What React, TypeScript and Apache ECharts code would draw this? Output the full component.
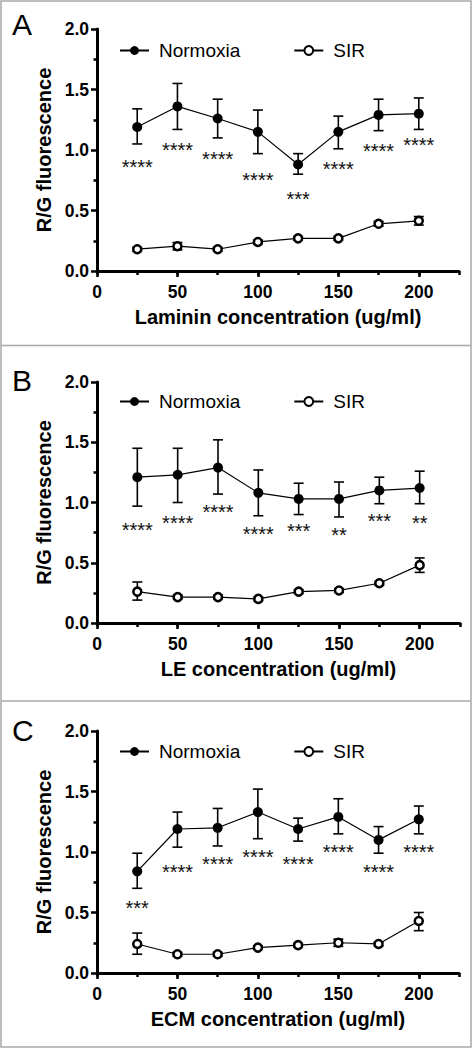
import React, { useEffect, useRef } from "react";
import * as echarts from "echarts";

const concentrations = [25, 50, 75, 100, 125, 150, 175, 200];
const xTickValues = [0, 50, 100, 150, 200];

// Panel A – Laminin
const lamNormMean = [1.19, 1.36, 1.26, 1.15, 0.88, 1.15, 1.29, 1.3];
const lamNormLow = [1.05, 1.17, 1.1, 0.97, 0.8, 1.01, 1.16, 1.17];
const lamNormHigh = [1.34, 1.55, 1.42, 1.33, 0.97, 1.28, 1.42, 1.43];
const lamSirMean = [0.18, 0.205, 0.18, 0.24, 0.27, 0.27, 0.39, 0.415];
const lamSirLow = [0.165, 0.175, 0.165, 0.225, 0.255, 0.255, 0.37, 0.38];
const lamSirHigh = [0.195, 0.235, 0.195, 0.255, 0.285, 0.285, 0.41, 0.45];
const lamStars = ["****", "****", "****", "****", "***", "****", "****", "****"];
const lamStarY = [0.9, 1.04, 0.96, 0.79, 0.63, 0.88, 1.03, 1.08];

// Panel B – LE
const leNormMean = [1.21, 1.23, 1.29, 1.08, 1.03, 1.03, 1.1, 1.12];
const leNormLow = [0.97, 1.0, 1.07, 0.89, 0.9, 0.88, 0.99, 0.99];
const leNormHigh = [1.45, 1.45, 1.52, 1.27, 1.16, 1.17, 1.21, 1.26];
const leSirMean = [0.26, 0.215, 0.215, 0.2, 0.26, 0.27, 0.33, 0.48];
const leSirLow = [0.19, 0.2, 0.2, 0.185, 0.245, 0.255, 0.315, 0.42];
const leSirHigh = [0.34, 0.23, 0.23, 0.215, 0.275, 0.285, 0.345, 0.54];
const leStars = ["****", "****", "****", "****", "***", "**", "***", "**"];
const leStarY = [0.81, 0.87, 0.96, 0.78, 0.8, 0.77, 0.88, 0.87];

// Panel C – ECM
const ecmNormMean = [0.84, 1.19, 1.2, 1.33, 1.19, 1.29, 1.1, 1.27];
const ecmNormLow = [0.7, 1.04, 1.05, 1.11, 1.09, 1.15, 0.99, 1.15];
const ecmNormHigh = [0.99, 1.33, 1.36, 1.52, 1.28, 1.44, 1.21, 1.38];
const ecmSirMean = [0.24, 0.155, 0.155, 0.21, 0.23, 0.25, 0.24, 0.43];
const ecmSirLow = [0.155, 0.14, 0.14, 0.195, 0.215, 0.22, 0.225, 0.35];
const ecmSirHigh = [0.33, 0.17, 0.17, 0.225, 0.245, 0.28, 0.255, 0.5];
const ecmStars = ["***", "****", "****", "****", "****", "****", "****", "****"];
const ecmStarY = [0.575, 0.87, 0.94, 1.0, 0.94, 1.04, 0.87, 1.04];

const panelLetters = ["A", "B", "C"];
const xAxisNames = [
  "Laminin concentration (ug/ml)",
  "LE concentration (ug/ml)",
  "ECM concentration (ug/ml)",
];
const yAxisName = "R/G fluorescence";
const legendNames = ["Normoxia", "SIR"];

const FONT = '"Liberation Sans", Arial, Helvetica, sans-serif';

const panels = [
  {
    normMean: lamNormMean, normLow: lamNormLow, normHigh: lamNormHigh,
    sirMean: lamSirMean, sirLow: lamSirLow, sirHigh: lamSirHigh,
    stars: lamStars, starY: lamStarY,
  },
  {
    normMean: leNormMean, normLow: leNormLow, normHigh: leNormHigh,
    sirMean: leSirMean, sirLow: leSirLow, sirHigh: leSirHigh,
    stars: leStars, starY: leStarY,
  },
  {
    normMean: ecmNormMean, normLow: ecmNormLow, normHigh: ecmNormHigh,
    sirMean: ecmSirMean, sirLow: ecmSirLow, sirHigh: ecmSirHigh,
    stars: ecmStars, starY: ecmStarY,
  },
];

// layout (pixels)
const gridLayout = [
  { left: 97, top: 29, width: 362, height: 242 },
  { left: 97, top: 382, width: 363, height: 241 },
  { left: 97, top: 731, width: 362, height: 242 },
];
const legendTops = [36, 387, 737];
const letterY = [24, 380, 730.5];

function makeErrorRenderer(stars: string[] | null, starY: number[] | null) {
  return (params: any, api: any) => {
    const x = api.value(0);
    const lo = api.value(1);
    const hi = api.value(2);
    const pHi = api.coord([x, hi]);
    const pLo = api.coord([x, lo]);
    const hw = 5;
    const style = { stroke: "#000", lineWidth: 1.6 };
    const children: any[] = [
      { type: "line", shape: { x1: pHi[0], y1: pHi[1], x2: pLo[0], y2: pLo[1] }, style },
      { type: "line", shape: { x1: pHi[0] - hw, y1: pHi[1], x2: pHi[0] + hw, y2: pHi[1] }, style },
      { type: "line", shape: { x1: pLo[0] - hw, y1: pLo[1], x2: pLo[0] + hw, y2: pLo[1] }, style },
    ];
    if (stars && starY) {
      const i = params.dataIndex;
      const p = api.coord([x, starY[i]]);
      children.push({
        type: "text",
        x: p[0],
        y: p[1] + 4.5,
        style: {
          text: stars[i],
          fontSize: 20,
          fontFamily: FONT,
          fill: "#111",
          align: "center",
          verticalAlign: "middle",
        },
      });
    }
    return { type: "group", children };
  };
}

function buildOption() {
  const grid: any[] = [];
  const xAxis: any[] = [];
  const yAxis: any[] = [];
  const series: any[] = [];
  const legend: any[] = [];
  const graphic: any[] = [];

  panels.forEach((pd, i) => {
    grid.push({ ...gridLayout[i], containLabel: false });
    xAxis.push({
      type: "value",
      gridIndex: i,
      position: "bottom",
      min: 0,
      max: 225,
      interval: 50,
      name: xAxisNames[i],
      nameLocation: "middle",
      nameGap: 36,
      nameTextStyle: { fontSize: 20, fontWeight: "bold", color: "#000", fontFamily: FONT },
      axisLine: { show: true, lineStyle: { color: "#000", width: 3 } },
      axisTick: {
        show: true,
        length: 6,
        customValues: xTickValues,
        lineStyle: { color: "#000", width: 2.5 },
      },
      axisLabel: {
        customValues: xTickValues,
        fontSize: 17.5,
        fontWeight: "bold",
        color: "#000",
        fontFamily: FONT,
        margin: 12,
      },
      splitLine: { show: false },
    });
    xAxis.push({
      type: "value",
      gridIndex: i,
      position: "bottom",
      min: 0,
      max: 225,
      interval: 25,
      axisLine: { show: false },
      axisTick: { show: true, length: 4, lineStyle: { color: "#000", width: 2.5 } },
      axisLabel: { show: false },
      splitLine: { show: false },
    });
    yAxis.push({
      type: "value",
      gridIndex: i,
      min: 0,
      max: 2,
      interval: 0.5,
      name: yAxisName,
      nameLocation: "middle",
      nameGap: 42,
      nameTextStyle: { fontSize: 20, fontWeight: "bold", color: "#000", fontFamily: FONT },
      axisLine: { show: true, lineStyle: { color: "#000", width: 3 } },
      axisTick: { show: true, length: 6, lineStyle: { color: "#000", width: 2.5 } },
      minorTick: { show: true, splitNumber: 2, length: 3.5, lineStyle: { color: "#000", width: 2.5 } },
      axisLabel: {
        formatter: (v: number) => v.toFixed(1),
        fontSize: 17.5,
        fontWeight: "bold",
        color: "#000",
        fontFamily: FONT,
        margin: 8,
      },
      splitLine: { show: false },
      minorSplitLine: { show: false },
    });

    const xi = i * 2;
    series.push({
      type: "custom",
      name: "Normoxia error",
      xAxisIndex: xi,
      yAxisIndex: i,
      renderItem: makeErrorRenderer(pd.stars, pd.starY),
      encode: { x: 0, y: [1, 2] },
      data: concentrations.map((c, k) => [c, pd.normLow[k], pd.normHigh[k]]),
      clip: false,
      z: 1,
    });
    series.push({
      type: "custom",
      name: "SIR error",
      xAxisIndex: xi,
      yAxisIndex: i,
      renderItem: makeErrorRenderer(null, null),
      encode: { x: 0, y: [1, 2] },
      data: concentrations.map((c, k) => [c, pd.sirLow[k], pd.sirHigh[k]]),
      clip: false,
      z: 1,
    });
    series.push({
      type: "line",
      name: legendNames[0],
      xAxisIndex: xi,
      yAxisIndex: i,
      data: concentrations.map((c, k) => [c, pd.normMean[k]]),
      symbol: "circle",
      symbolSize: 10,
      itemStyle: { color: "#000" },
      lineStyle: { color: "#000", width: 1.2 },
      z: 3,
    });
    series.push({
      type: "line",
      name: legendNames[1],
      xAxisIndex: xi,
      yAxisIndex: i,
      data: concentrations.map((c, k) => [c, pd.sirMean[k]]),
      symbol: "circle",
      symbolSize: 8,
      showAllSymbol: true,
      itemStyle: { color: "#fff", borderColor: "#000", borderWidth: 2.5 },
      lineStyle: { color: "#000", width: 1.2 },
      z: 3,
    });

    legend.push({
      data: legendNames,
      left: 114,
      top: legendTops[i],
      orient: "horizontal",
      itemWidth: 29,
      itemHeight: 11,
      itemGap: 53,
      selectedMode: false,
      textStyle: { fontSize: 19, color: "#000", fontFamily: FONT, padding: [0, 0, 0, 5] },
    });

    graphic.push({
      type: "text",
      x: 12,
      y: letterY[i],
      style: {
        text: panelLetters[i],
        fontSize: 30,
        fontFamily: FONT,
        fill: "#000",
        align: "left",
        verticalAlign: "middle",
      },
    });
  });

  graphic.push({
    type: "rect",
    shape: { x: 1, y: 1, width: 470, height: 1046 },
    style: { fill: "none", stroke: "#a8a8a8", lineWidth: 1.5 },
    silent: true,
  });
  graphic.push({
    type: "line",
    shape: { x1: 1, y1: 345.5, x2: 471, y2: 345.5 },
    style: { stroke: "#a8a8a8", lineWidth: 1.5 },
    silent: true,
  });
  graphic.push({
    type: "line",
    shape: { x1: 1, y1: 701, x2: 471, y2: 701 },
    style: { stroke: "#a8a8a8", lineWidth: 1.5 },
    silent: true,
  });

  return {
    animation: false,
    backgroundColor: "#fff",
    textStyle: { fontFamily: FONT },
    grid,
    xAxis,
    yAxis,
    legend,
    series,
    graphic,
  };
}

export default function App() {
  const ref = useRef<HTMLDivElement>(null);
  useEffect(() => {
    if (!ref.current) return;
    const chart = echarts.init(ref.current, null, { renderer: "svg" });
    chart.setOption(buildOption() as any);
    return () => chart.dispose();
  }, []);
  return (
    <div
      ref={ref}
      style={{ position: "absolute", left: 0, top: 0, width: 473, height: 1048, background: "#fff" }}
    />
  );
}
